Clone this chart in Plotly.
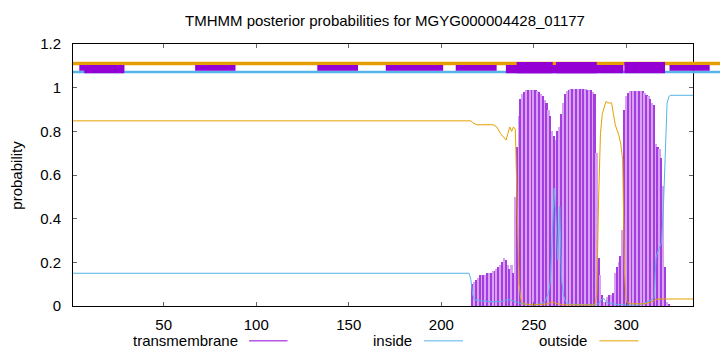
import plotly.graph_objects as go

# ---------------- data ----------------
seq_len = 336
x_ticks = [50, 100, 150, 200, 250, 300]
y_ticks = [0, 0.2, 0.4, 0.6, 0.8, 1.0, 1.2]
y_tick_labels = ["0", "0.2", "0.4", "0.6", "0.8", "1", "1.2"]

# transmembrane posterior per residue (residues 217..323, zero elsewhere)
tm_res = list(range(217, 324))
tm_prob = [
    0.10, 0.11, 0.12, 0.13, 0.14, 0.14, 0.14, 0.14, 0.15, 0.15,   # 217-226
    0.15, 0.16, 0.16, 0.17, 0.18, 0.19, 0.20, 0.22, 0.21, 0.19,   # 227-236
    0.17, 0.19, 0.15, 0.50, 0.73, 0.87, 0.95, 0.97, 0.98, 0.99,   # 237-246
    0.99, 0.99, 0.99, 0.99, 0.99, 0.985, 0.98, 0.97, 0.96, 0.945, # 247-256
    0.93, 0.90, 0.87, 0.80, 0.78, 0.76, 0.80, 0.82, 0.88, 0.93,   # 257-266
    0.97, 0.985, 0.99, 0.995, 0.995, 0.995, 0.995, 0.995, 0.995, 0.995,  # 267-276
    0.995, 0.995, 0.99, 0.99, 0.99, 0.98, 0.97, 0.70, 0.22, 0.14,  # 277-286
    0.05, 0.02, 0.02, 0.04, 0.05, 0.05, 0.06, 0.15, 0.18, 0.20,   # 287-296
    0.23, 0.35, 0.90, 0.96, 0.975, 0.985, 0.985, 0.985, 0.985, 0.985,  # 297-306
    0.985, 0.985, 0.985, 0.975, 0.967, 0.96, 0.95, 0.93, 0.92, 0.74,   # 307-316
    0.73, 0.72, 0.68, 0.55, 0.18, 0.02, 0.01,                     # 317-323
]

# inside posterior (read at breakpoints)
in_res = [1, 215, 216, 217, 218, 220, 226, 232, 234, 236,
          238, 240, 244, 250, 254, 256, 258, 259, 260, 261,
          262, 263, 264, 265, 266, 267, 269, 283, 285, 286,
          287, 288, 289, 291, 294, 300, 306, 309, 312, 314,
          315, 316, 317, 318, 319, 320, 321, 322, 323, 324, 336]
in_prob = [0.15, 0.15, 0.12, 0.05, 0.03, 0.025, 0.02, 0.02, 0.025, 0.03,
           0.025, 0.02, 0.01, 0.005, 0.01, 0.02, 0.06, 0.12, 0.36, 0.54,
           0.40, 0.21, 0.455, 0.12, 0.05, 0.02, 0.008, 0.005, 0.01, 0.025,
           0.034, 0.033, 0.02, 0.012, 0.008, 0.004, 0.004, 0.01, 0.02, 0.03,
           0.04, 0.22, 0.25, 0.27, 0.29, 0.45, 0.65, 0.93, 0.96, 0.965, 0.965]

# outside posterior (read at breakpoints)
out_res = [1, 216, 217, 219, 228, 230, 232, 234, 235, 236,
           237, 238, 239, 240, 241, 242, 243, 244, 250, 258,
           260, 261, 263, 266, 283, 284, 285, 286, 287, 288,
           289, 290, 292, 293, 294, 296, 297, 298, 299, 300,
           302, 310, 312, 314, 316, 318, 336]
out_prob = [0.848, 0.848, 0.84, 0.83, 0.83, 0.82, 0.79, 0.77, 0.76, 0.79,
            0.82, 0.80, 0.82, 0.81, 0.45, 0.10, 0.03, 0.01, 0.005, 0.01,
            0.02, 0.015, 0.01, 0.005, 0.005, 0.05, 0.49, 0.79, 0.88, 0.91,
            0.937, 0.93, 0.93, 0.88, 0.83, 0.78, 0.74, 0.67, 0.15, 0.02,
            0.01, 0.01, 0.015, 0.02, 0.03, 0.032, 0.032]

# topology strip at the top (residue ranges, probability-axis levels)
band_start, band_end = 1, 350.7
outside_band_level = 1.111
inside_band_level = 1.072
short_box_start = [4.4, 67, 133, 170, 207.8, 323.3]
short_box_end = [28.7, 88.8, 155, 201, 229.9, 345]
short_box_lo, short_box_hi = 1.078, 1.104
low_box_start = [7.1, 234.9]
low_box_end = [28.7, 298.4]
low_box_lo, low_box_hi = 1.066, 1.104
tall_box_start = [240.7, 262, 298.9]
tall_box_end = [260.2, 284, 320.9]
tall_box_lo, tall_box_hi = 1.066, 1.117

# ---------------- styling ----------------
C_TM = "#9400d3"
C_IN = "#56b4e9"
C_OUT = "#e69f00"
FONT = "Liberation Sans"
FS = 15

x_min, x_max = 1, seq_len
y_min, y_max = 0, 1.2


def px(u):
    return (u - x_min) / (x_max - x_min)


def py(v):
    return (v - y_min) / (y_max - y_min)


fig = go.Figure()

bar_colors = ["#a43ee2" if i % 2 == 0 else "#d8a2f0" for i in range(len(tm_res))]
fig.add_trace(go.Bar(x=tm_res, y=tm_prob, width=1.0,
                     marker=dict(color=bar_colors, line=dict(width=0)),
                     showlegend=False, hoverinfo="skip"))
fig.add_trace(go.Scatter(x=in_res, y=in_prob, mode="lines",
                         line=dict(color=C_IN, width=1), showlegend=False))
fig.add_trace(go.Scatter(x=out_res, y=out_prob, mode="lines",
                         line=dict(color=C_OUT, width=1), showlegend=False))

shapes = []
# top bands
shapes.append(dict(type="line", xref="paper", yref="paper",
                   x0=px(band_start), x1=px(band_end),
                   y0=py(outside_band_level), y1=py(outside_band_level),
                   line=dict(color=C_OUT, width=3.4)))
shapes.append(dict(type="line", xref="paper", yref="paper",
                   x0=px(band_start), x1=px(band_end),
                   y0=py(inside_band_level), y1=py(inside_band_level),
                   line=dict(color=C_IN, width=2.6)))
for s, e in zip(short_box_start, short_box_end):
    shapes.append(dict(type="rect", xref="paper", yref="paper",
                       x0=px(s), x1=px(e), y0=py(short_box_lo), y1=py(short_box_hi),
                       fillcolor=C_TM, line=dict(width=0)))
for s, e in zip(low_box_start, low_box_end):
    shapes.append(dict(type="rect", xref="paper", yref="paper",
                       x0=px(s), x1=px(e), y0=py(low_box_lo), y1=py(low_box_hi),
                       fillcolor=C_TM, line=dict(width=0)))
for s, e in zip(tall_box_start, tall_box_end):
    shapes.append(dict(type="rect", xref="paper", yref="paper",
                       x0=px(s), x1=px(e), y0=py(tall_box_lo), y1=py(tall_box_hi),
                       fillcolor=C_TM, line=dict(width=0)))

# legend (gnuplot style: text then sample line)
legend_items = [("transmembrane", C_TM, 0.269, 0.284, 0.346),
                ("inside", C_IN, 0.550, 0.566, 0.629),
                ("outside", C_OUT, 0.832, 0.849, 0.912)]
annotations = []
leg_y = -0.133
for name, col, tx, l0, l1 in legend_items:
    annotations.append(dict(text=name, xref="paper", yref="paper", x=tx, y=leg_y,
                            xanchor="right", yanchor="middle", showarrow=False,
                            font=dict(family=FONT, size=FS, color="#000")))
    shapes.append(dict(type="line", xref="paper", yref="paper", x0=l0, x1=l1,
                       y0=leg_y, y1=leg_y, line=dict(color=col, width=1)))

annotations.append(dict(text="probability", xref="paper", yref="paper",
                        x=-0.0925, y=0.5, textangle=-90, showarrow=False,
                        xanchor="center", yanchor="middle",
                        font=dict(family=FONT, size=FS, color="#000")))

fig.update_layout(
    width=720, height=352,
    margin=dict(l=73, r=27, t=44, b=46, pad=0),
    paper_bgcolor="white", plot_bgcolor="white",
    bargap=0,
    title=dict(text="TMHMM posterior probabilities for MGYG000004428_01177",
               x=385 / 720, xanchor="center", y=1 - 21 / 352, yanchor="middle",
               font=dict(family=FONT, size=FS, color="#000")),
    shapes=shapes, annotations=annotations,
    xaxis=dict(range=[x_min, x_max], tickvals=x_ticks, ticks="inside", ticklen=4,
               tickcolor="#666", showgrid=False, zeroline=False, showline=True,
               linecolor="#000", linewidth=1, mirror="ticks",
               tickfont=dict(family=FONT, size=FS, color="#000"),
               ticklabelstandoff=5),
    yaxis=dict(range=[y_min, y_max], tickvals=y_ticks, ticktext=y_tick_labels,
               ticks="inside", ticklen=4, tickcolor="#666", showgrid=False,
               zeroline=False, showline=True, linecolor="#000", linewidth=1,
               mirror="ticks", tickfont=dict(family=FONT, size=FS, color="#000"),
               ticklabelstandoff=8),
)

fig.write_html("out.html")
